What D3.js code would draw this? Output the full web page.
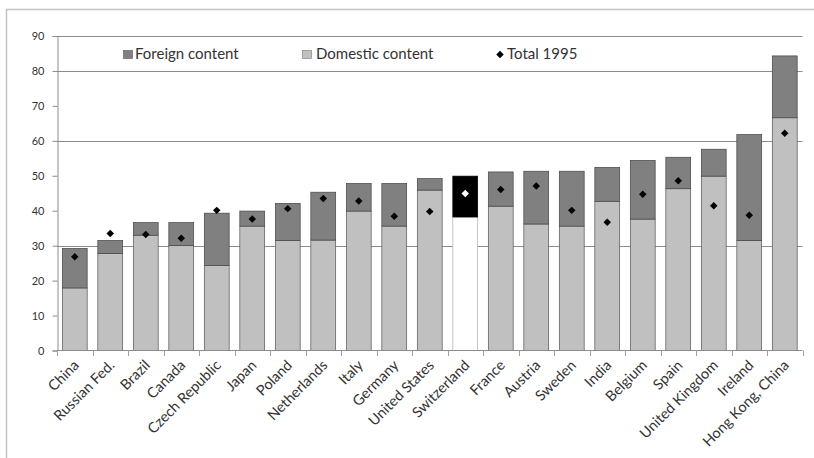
<!DOCTYPE html>
<html>
<head>
<meta charset="utf-8">
<script src="https://cdn.jsdelivr.net/npm/d3@7"></script>
<style>
  html, body { margin: 0; padding: 0; background: #fff; }
  svg { display: block; }
  text { font-family: Lato, "Open Sans", sans-serif; fill: #333; }
</style>
</head>
<body>
<svg id="chart" width="814" height="458"></svg>
<script>
// Economies, ordered by total content
const countries = ["China", "Russian Fed.", "Brazil", "Canada", "Czech Republic", "Japan", "Poland",
  "Netherlands", "Italy", "Germany", "United States", "Switzerland", "France", "Austria", "Sweden",
  "India", "Belgium", "Spain", "United Kingdom", "Ireland", "Hong Kong, China"];
// Domestic content (lower segment)
const domestic = [17.9, 27.8, 33.0, 30.0, 24.3, 35.6, 31.5, 31.6, 39.9, 35.6, 45.9, 38.2, 41.3, 36.2, 35.6,
  42.7, 37.6, 46.3, 49.9, 31.5, 66.6];
// Foreign content (upper segment)
const foreign = [11.3, 3.7, 3.6, 6.6, 15.0, 4.3, 10.6, 13.7, 7.9, 12.2, 3.3, 11.7, 9.8, 15.1, 15.7,
  9.7, 16.8, 9.0, 7.7, 30.3, 17.7];
// Total in 1995 (diamond markers)
const total1995 = [26.8, 33.5, 33.2, 32.1, 40.1, 37.6, 40.6, 43.5, 42.8, 38.4, 39.8, 44.9, 46.1, 47.1, 40.1,
  36.7, 44.7, 48.6, 41.4, 38.7, 62.2];
const yTicks = [0, 10, 20, 30, 40, 50, 60, 70, 80, 90];
const gridValues = [30, 60, 80, 90];
const highlight = "Switzerland";

const svg = d3.select("#chart");

// outer frame
svg.append("rect").attr("x", 6.5).attr("y", 9.5).attr("width", 820).attr("height", 460)
  .attr("fill", "none").attr("stroke", "#c4c4c4").attr("stroke-width", 1.5);

const x = d3.scaleBand().domain(countries).range([57, 802.5]).paddingInner(0.3).paddingOuter(0.15);
const y = d3.scaleLinear().domain([0, 90]).range([350.5, 36]);

// gridlines
svg.append("g").selectAll("line").data(gridValues).join("line")
  .attr("x1", 57).attr("x2", 802.5)
  .attr("y1", d => Math.round(y(d)) + 0.5).attr("y2", d => Math.round(y(d)) + 0.5)
  .attr("stroke", "#8c8c8c").attr("stroke-width", 1);

// y axis
const yAxis = svg.append("g").attr("transform", "translate(57.5,0)")
  .call(d3.axisLeft(y).tickValues(yTicks).tickSize(5).tickPadding(8));
yAxis.select(".domain").attr("stroke", "#8c8c8c");
yAxis.selectAll(".tick line").attr("stroke", "#8c8c8c");
yAxis.selectAll("text").style("font-size", "11px").attr("fill", "#333");

// stacked bars
const bars = svg.append("g");
countries.forEach((c, i) => {
  const hl = c === highlight;
  bars.append("rect")
    .attr("x", x(c)).attr("width", x.bandwidth())
    .attr("y", y(domestic[i])).attr("height", y(0) - y(domestic[i]))
    .attr("fill", hl ? "#ffffff" : "#c0c0c0")
    .attr("stroke", hl ? "#b0b0b0" : "#555").attr("stroke-width", 0.7);
  bars.append("rect")
    .attr("x", x(c)).attr("width", x.bandwidth())
    .attr("y", y(domestic[i] + foreign[i])).attr("height", y(domestic[i]) - y(domestic[i] + foreign[i]))
    .attr("fill", hl ? "#000000" : "#808080")
    .attr("stroke", hl ? "#000" : "#444").attr("stroke-width", 0.7);
});

// x axis
svg.append("line").attr("x1", 57).attr("x2", 802.5).attr("y1", 350.5).attr("y2", 350.5)
  .attr("stroke", "#8c8c8c");
const edge0 = x.range()[0] + x.step() * x.paddingOuter() - x.step() * x.paddingInner() / 2;
svg.append("g").selectAll("line").data(d3.range(countries.length + 1)).join("line")
  .attr("x1", i => Math.round(edge0 + i * x.step()) + 0.5)
  .attr("x2", i => Math.round(edge0 + i * x.step()) + 0.5)
  .attr("y1", 350.5).attr("y2", 356)
  .attr("stroke", "#a0a0a0");

// category labels
svg.append("g").selectAll("text").data(countries).join("text")
  .attr("transform", d => `translate(${x(d) + x.bandwidth() / 2 - 2},${359}) rotate(-45)`)
  .attr("text-anchor", "end").attr("dy", "0.7em")
  .style("font-size", "14.5px").attr("fill", "#1a1a1a")
  .text(d => d);

// 1995 totals: small square turned 45 degrees
const diamond = d3.symbol().type(d3.symbolSquare).size(28);
svg.append("g").selectAll("path").data(countries).join("path")
  .attr("transform", (d, i) => `translate(${x(d) + x.bandwidth() / 2},${y(total1995[i])}) rotate(45)`)
  .attr("d", diamond)
  .attr("fill", d => d === highlight ? "#ffffff" : "#000000");

// legend
const lg = svg.append("g");
lg.append("rect").attr("x", 123.5).attr("y", 50.5).attr("width", 9).attr("height", 8)
  .attr("fill", "#808080").attr("stroke", "#555").attr("stroke-width", 0.6);
lg.append("text").attr("x", 135).attr("y", 59).style("font-size", "15px").attr("fill", "#1a1a1a").text("Foreign content");
lg.append("rect").attr("x", 302.5).attr("y", 50.5).attr("width", 9).attr("height", 8)
  .attr("fill", "#c0c0c0").attr("stroke", "#777").attr("stroke-width", 0.6);
lg.append("text").attr("x", 316).attr("y", 59).style("font-size", "15px").attr("fill", "#1a1a1a").text("Domestic content");
lg.append("path").attr("transform", "translate(500,54.5) rotate(45)").attr("d", diamond).attr("fill", "#000");
lg.append("text").attr("x", 507).attr("y", 59).style("font-size", "15px").attr("fill", "#1a1a1a").text("Total 1995");
</script>
</body>
</html>
